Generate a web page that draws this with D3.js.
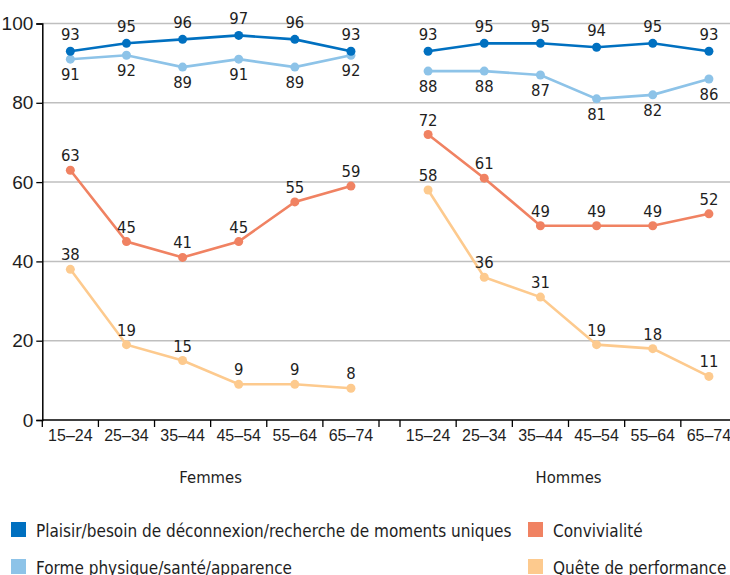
<!DOCTYPE html>
<html>
<head>
<meta charset="utf-8">
<script src="https://cdn.jsdelivr.net/npm/d3@7"></script>
<style>
  body { margin: 0; background: #fff; }
  svg { display: block; font-family: "DejaVu Sans Condensed", "Liberation Sans Narrow", sans-serif; }
</style>
</head>
<body>
<svg id="chart" width="730" height="575"></svg>
<script>
const ageGroups = ['15–24', '25–34', '35–44', '45–54', '55–64', '65–74'];
const groups = ['Femmes', 'Hommes'];
const seriesNames = [
  'Plaisir/besoin de déconnexion/recherche de moments uniques',
  'Forme physique/santé/apparence',
  'Convivialité',
  'Quête de performance'
];
const plaisirF = [93, 95, 96, 97, 96, 93];
const formeF = [91, 92, 89, 91, 89, 92];
const convivF = [63, 45, 41, 45, 55, 59];
const queteF = [38, 19, 15, 9, 9, 8];
const plaisirH = [93, 95, 95, 94, 95, 93];
const formeH = [88, 88, 87, 81, 82, 86];
const convivH = [72, 61, 49, 49, 49, 52];
const queteH = [58, 36, 31, 19, 18, 11];
const yTicks = [0, 20, 40, 60, 80, 100];

const colors = ['#0070c0', '#8dc3e8', '#f08262', '#fdca8e'];
// label offset per series: above or below the point
const labelDy = [-11, 21, -9, -9];
const textColor = '#1e1e1e';

const svg = d3.select('#chart');
const y = d3.scaleLinear().domain([0, 100]).range([420, 23.5]);
const xF = d3.scaleBand().domain(ageGroups).range([42.3, 379]);
const xH = d3.scaleBand().domain(ageGroups).range([400, 737]);

// gridlines
svg.append('g').selectAll('line')
  .data(yTicks.filter(d => d > 0))
  .enter().append('line')
  .attr('x1', 42).attr('x2', 730)
  .attr('y1', d => y(d)).attr('y2', d => y(d))
  .attr('stroke', '#bfbfbf').attr('stroke-width', 1.5);

// y axis
const yAxis = svg.append('g')
  .attr('transform', 'translate(42.3,0)')
  .call(d3.axisLeft(y).tickValues(yTicks).tickSize(6).tickPadding(3));
yAxis.select('.domain').attr('stroke', '#000').attr('stroke-width', 1.5);
yAxis.selectAll('.tick line').attr('stroke', '#000').attr('stroke-width', 1.3);
yAxis.selectAll('text').attr('font-size', 19).attr('fill', textColor);

// x axes
[[xF, 'Femmes'], [xH, 'Hommes']].forEach(([x, name]) => {
  const g = svg.append('g').attr('transform', 'translate(0,420)');
  g.call(d3.axisBottom(x).tickSize(0).tickPadding(10));
  g.select('.domain').remove();
  g.selectAll('text').attr('font-size', 16).attr('fill', textColor);
  const edges = ageGroups.map(a => x(a)).concat([x(ageGroups[5]) + x.bandwidth()]);
  g.selectAll('.edge').data(edges).enter().append('line')
    .attr('class', 'edge')
    .attr('x1', d => d).attr('x2', d => d)
    .attr('y1', 0).attr('y2', 7)
    .attr('stroke', '#000').attr('stroke-width', 1.3);
  svg.append('text')
    .attr('x', (x.range()[0] + x.range()[1]) / 2)
    .attr('y', 483)
    .attr('text-anchor', 'middle')
    .attr('font-size', 16.5).attr('fill', textColor)
    .text(name);
});
svg.append('line')
  .attr('x1', 42.3).attr('x2', 730)
  .attr('y1', 420).attr('y2', 420)
  .attr('stroke', '#000').attr('stroke-width', 1.5);

// series
const data = [
  [plaisirF, plaisirH],
  [formeF, formeH],
  [convivF, convivH],
  [queteF, queteH]
];
const line = x => d3.line()
  .x((d, i) => x(ageGroups[i]) + x.bandwidth() / 2)
  .y(d => y(d));

const order = [3, 2, 1, 0];
order.forEach(s => {
  [xF, xH].forEach((x, gi) => {
    const vals = data[s][gi];
    const g = svg.append('g');
    g.append('path')
      .datum(vals)
      .attr('d', line(x))
      .attr('fill', 'none')
      .attr('stroke', colors[s])
      .attr('stroke-width', 2.6);
    g.selectAll('circle').data(vals).enter().append('circle')
      .attr('cx', (d, i) => x(ageGroups[i]) + x.bandwidth() / 2)
      .attr('cy', d => y(d))
      .attr('r', 4.5)
      .attr('fill', colors[s]);
    g.selectAll('text').data(vals).enter().append('text')
      .attr('x', (d, i) => x(ageGroups[i]) + x.bandwidth() / 2)
      .attr('y', d => y(d) + labelDy[s])
      .attr('text-anchor', 'middle')
      .attr('font-size', 16.5).attr('fill', textColor)
      .text(d => d);
  });
});

// legend
const legendPos = [[11, 537], [11, 574], [528, 537], [528, 574]];
seriesNames.forEach((n, i) => {
  const [lx, ly] = legendPos[i];
  svg.append('rect')
    .attr('x', lx).attr('y', ly - 15)
    .attr('width', 15).attr('height', 15)
    .attr('fill', colors[i]);
  svg.append('text')
    .attr('x', lx + 25).attr('y', ly)
    .attr('font-size', 17).attr('fill', textColor)
    .text(n);
});
</script>
</body>
</html>
